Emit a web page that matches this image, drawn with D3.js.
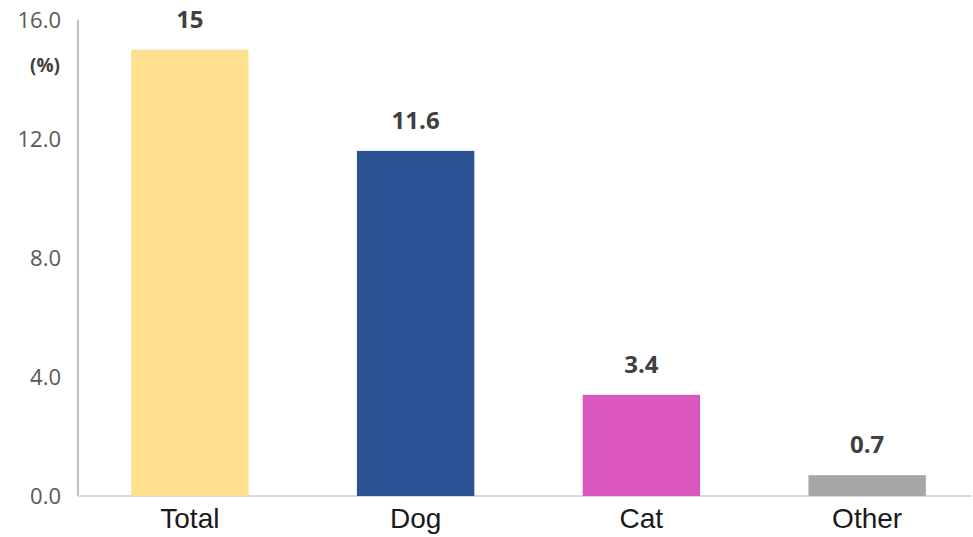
<!DOCTYPE html>
<html><head><meta charset="utf-8">
<script src="https://cdn.jsdelivr.net/npm/d3@7"></script>
<style>body{margin:0;background:#fff;} svg{display:block;}</style>
</head><body>
<svg id="c" width="973" height="537"></svg>
<script>
const categories = ["Total", "Dog", "Cat", "Other"];
const values = [15, 11.6, 3.4, 0.7];
const valueLabels = ["15", "11.6", "3.4", "0.7"];
const colors = ["#FFE08F", "#2B5394", "#DA58BE", "#A6A6A6"];
const yTicks = [0, 4, 8, 12, 16];

const svg = d3.select("#c");
const x = d3.scaleBand().domain(categories).range([77, 980]).paddingInner(0.48).paddingOuter(0.24);
const y = d3.scaleLinear().domain([0, 16]).range([496, 20]);

// axes lines
svg.append("line").attr("x1", 78).attr("x2", 78).attr("y1", y(16)).attr("y2", y(0))
  .attr("stroke", "#BFBFBF").attr("stroke-width", 2);
svg.append("line").attr("x1", 78).attr("x2", 972).attr("y1", y(0)).attr("y2", y(0))
  .attr("stroke", "#D9D9D9").attr("stroke-width", 2);

// y ticks
svg.append("g").selectAll("text").data(yTicks).join("text")
  .attr("x", 61).attr("y", d => y(d)).attr("dy", "0.35em")
  .attr("text-anchor", "end")
  .attr("font-family", "'Open Sans', sans-serif").attr("font-size", 22)
  .attr("fill", "#595959").text(d => d3.format(".1f")(d));

svg.append("text").attr("x", 45).attr("y", 65).attr("dy", "0.35em")
  .attr("text-anchor", "middle").attr("font-family", "'Open Sans', sans-serif")
  .attr("font-size", 19).attr("font-weight", "bold").attr("fill", "#404040").text("(%)");

// bars
svg.append("g").selectAll("rect").data(categories).join("rect")
  .attr("x", d => x(d)).attr("width", x.bandwidth())
  .attr("y", (d, i) => y(values[i])).attr("height", (d, i) => y(0) - y(values[i]))
  .attr("fill", (d, i) => colors[i]);

// value labels
svg.append("g").selectAll("text").data(categories).join("text")
  .attr("x", d => x(d) + x.bandwidth() / 2).attr("y", (d, i) => y(values[i]) - 22)
  .attr("text-anchor", "middle")
  .attr("font-family", "'Open Sans', sans-serif").attr("font-size", 24).attr("font-weight", "bold")
  .attr("fill", "#404040").text((d, i) => valueLabels[i]);

// category labels
svg.append("g").selectAll("text").data(categories).join("text")
  .attr("x", d => x(d) + x.bandwidth() / 2).attr("y", 528)
  .attr("text-anchor", "middle").attr("font-family", "'Liberation Sans', Arial, sans-serif")
  .attr("font-size", 28).attr("fill", "#1a1a1a").text(d => d);
</script>
</body></html>
